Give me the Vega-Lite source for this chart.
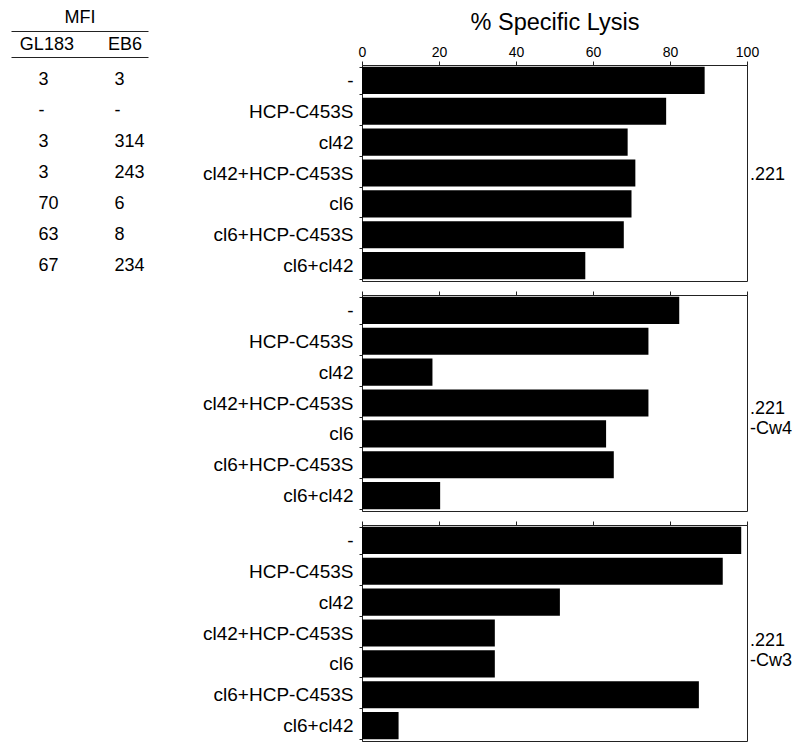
{
  "$schema": "https://vega.github.io/schema/vega-lite/v6.json",
  "padding": {"left": 11, "top": 8, "right": 5, "bottom": 0},
  "background": "white",
  "datasets": {
    "lysis": [
      {"target": ".221", "condition": "-", "lysis": 89},
      {"target": ".221", "condition": "HCP-C453S", "lysis": 79},
      {"target": ".221", "condition": "cl42", "lysis": 69},
      {"target": ".221", "condition": "cl42+HCP-C453S", "lysis": 71},
      {"target": ".221", "condition": "cl6", "lysis": 70},
      {"target": ".221", "condition": "cl6+HCP-C453S", "lysis": 68},
      {"target": ".221", "condition": "cl6+cl42", "lysis": 58},
      {"target": ".221-Cw4", "condition": "-", "lysis": 82.4},
      {"target": ".221-Cw4", "condition": "HCP-C453S", "lysis": 74.4},
      {"target": ".221-Cw4", "condition": "cl42", "lysis": 18.3},
      {"target": ".221-Cw4", "condition": "cl42+HCP-C453S", "lysis": 74.4},
      {"target": ".221-Cw4", "condition": "cl6", "lysis": 63.4},
      {"target": ".221-Cw4", "condition": "cl6+HCP-C453S", "lysis": 65.4},
      {"target": ".221-Cw4", "condition": "cl6+cl42", "lysis": 20.3},
      {"target": ".221-Cw3", "condition": "-", "lysis": 98.5},
      {"target": ".221-Cw3", "condition": "HCP-C453S", "lysis": 93.7},
      {"target": ".221-Cw3", "condition": "cl42", "lysis": 51.4},
      {"target": ".221-Cw3", "condition": "cl42+HCP-C453S", "lysis": 34.5},
      {"target": ".221-Cw3", "condition": "cl6", "lysis": 34.5},
      {"target": ".221-Cw3", "condition": "cl6+HCP-C453S", "lysis": 87.5},
      {"target": ".221-Cw3", "condition": "cl6+cl42", "lysis": 9.5}
    ],
    "targets": [
      {"target": ".221", "label": ".221"},
      {"target": ".221-Cw4", "label": ".221\n-Cw4"},
      {"target": ".221-Cw3", "label": ".221\n-Cw3"}
    ],
    "mfi": [
      {"condition": "-", "antibody": "GL183", "mfi": "3"},
      {"condition": "HCP-C453S", "antibody": "GL183", "mfi": "-"},
      {"condition": "cl42", "antibody": "GL183", "mfi": "3"},
      {"condition": "cl42+HCP-C453S", "antibody": "GL183", "mfi": "3"},
      {"condition": "cl6", "antibody": "GL183", "mfi": "70"},
      {"condition": "cl6+HCP-C453S", "antibody": "GL183", "mfi": "63"},
      {"condition": "cl6+cl42", "antibody": "GL183", "mfi": "67"},
      {"condition": "-", "antibody": "EB6", "mfi": "3"},
      {"condition": "HCP-C453S", "antibody": "EB6", "mfi": "-"},
      {"condition": "cl42", "antibody": "EB6", "mfi": "314"},
      {"condition": "cl42+HCP-C453S", "antibody": "EB6", "mfi": "243"},
      {"condition": "cl6", "antibody": "EB6", "mfi": "6"},
      {"condition": "cl6+HCP-C453S", "antibody": "EB6", "mfi": "8"},
      {"condition": "cl6+cl42", "antibody": "EB6", "mfi": "234"}
    ]
  },
  "columns": 2,
  "bounds": "flush",
  "spacing": {"row": 14, "column": 214},
  "concat": [
    {
      "width": 137, "height": 216,
      "view": {"stroke": null},
      "data": {"name": "mfi"},
      "layer": [
        {
          "transform": [{"filter": "datum.antibody === 'GL183'"}],
          "mark": {"type": "text", "align": "left", "dx": -8, "fontSize": 18, "color": "black"},
          "encoding": {
            "x": {"field": "antibody", "type": "nominal",
                  "scale": {"domain": ["GL183", "EB6"], "padding": 0.378, "align": 0.6},
                  "axis": {"orient": "top", "offset": 8, "ticks": false, "labelPadding": 4, "labelFontSize": 18, "labelAngle": 0, "title": null}},
            "y": {"field": "condition", "type": "nominal",
                  "sort": ["-", "HCP-C453S", "cl42", "cl42+HCP-C453S", "cl6", "cl6+HCP-C453S", "cl6+cl42"],
                  "scale": {"padding": 0.5}, "axis": null},
            "text": {"field": "mfi"}
          }
        },
        {
          "transform": [{"filter": "datum.antibody === 'EB6'"}],
          "mark": {"type": "text", "align": "left", "dx": -10, "fontSize": 18, "color": "black"},
          "encoding": {
            "x": {"field": "antibody", "type": "nominal",
                  "scale": {"domain": ["GL183", "EB6"], "padding": 0.378, "align": 0.6},
                  "axis": {"orient": "top", "offset": 34, "ticks": false, "labels": false, "title": "MFI", "titleFontSize": 18, "titleFontWeight": "normal", "titlePadding": 5}},
            "y": {"field": "condition", "type": "nominal",
                  "sort": ["-", "HCP-C453S", "cl42", "cl42+HCP-C453S", "cl6", "cl6+HCP-C453S", "cl6+cl42"],
                  "scale": {"padding": 0.5}, "axis": null},
            "text": {"field": "mfi"}
          }
        }
      ],
      "resolve": {"axis": {"x": "independent"}}
    },
    {
      "width": 385, "height": 216,
      "view": {"stroke": "#222"},
      "layer": [
        {
          "data": {"name": "lysis"},
          "transform": [{"filter": "datum.target === '.221'"}],
          "mark": {"type": "bar", "color": "black"},
          "encoding": {
            "y": {"field": "condition", "type": "nominal",
                  "sort": ["-", "HCP-C453S", "cl42", "cl42+HCP-C453S", "cl6", "cl6+HCP-C453S", "cl6+cl42"],
                  "scale": {"paddingInner": 0.12, "paddingOuter": 0.06},
                  "axis": {"title": null, "labelFontSize": 19, "labelPadding": 6, "tickSize": 3, "tickBand": "extent"}},
            "x": {"field": "lysis", "type": "quantitative",
                  "scale": {"domain": [0, 100], "nice": false},
                  "axis": {"orient": "top", "title": "% Specific Lysis", "titleFontSize": 23.5, "titleFontWeight": "normal", "titlePadding": 11,
                           "values": [0, 10, 20, 30, 40, 50, 60, 70, 80, 90, 100],
                           "labelExpr": "datum.value % 20 === 0 ? datum.label : ''",
                           "labelFontSize": 14, "labelFlush": false, "labelPadding": 2, "tickSize": 4, "grid": false}}
          }
        },
        {
          "data": {"name": "targets"},
          "transform": [{"filter": "datum.target === '.221'"}],
          "mark": {"type": "text", "align": "left", "baseline": "middle", "lineBreak": "\n", "fontSize": 18, "dx": 3, "dy": 2, "color": "black"},
          "encoding": {"x": {"datum": 100}, "text": {"field": "label"}}
        }
      ]
    },
    {
      "width": 137, "height": 216,
      "view": {"stroke": null},
      "data": {"values": []},
      "mark": "point"
    },
    {
      "width": 385, "height": 216,
      "view": {"stroke": "#222"},
      "layer": [
        {
          "data": {"name": "lysis"},
          "transform": [{"filter": "datum.target === '.221-Cw4'"}],
          "mark": {"type": "bar", "color": "black"},
          "encoding": {
            "y": {"field": "condition", "type": "nominal",
                  "sort": ["-", "HCP-C453S", "cl42", "cl42+HCP-C453S", "cl6", "cl6+HCP-C453S", "cl6+cl42"],
                  "scale": {"paddingInner": 0.12, "paddingOuter": 0.06},
                  "axis": {"title": null, "labelFontSize": 19, "labelPadding": 6, "tickSize": 3, "tickBand": "extent"}},
            "x": {"field": "lysis", "type": "quantitative",
                  "scale": {"domain": [0, 100], "nice": false},
                  "axis": {"orient": "top", "title": null,
                           "values": [0, 10, 20, 30, 40, 50, 60, 70, 80, 90, 100],
                           "labels": false, "tickSize": 4, "grid": false}}
          }
        },
        {
          "data": {"name": "targets"},
          "transform": [{"filter": "datum.target === '.221-Cw4'"}],
          "mark": {"type": "text", "align": "left", "baseline": "middle", "lineBreak": "\n", "fontSize": 18, "dx": 3, "dy": 6, "color": "black"},
          "encoding": {"x": {"datum": 100}, "text": {"field": "label"}}
        }
      ]
    },
    {
      "width": 137, "height": 216,
      "view": {"stroke": null},
      "data": {"values": []},
      "mark": "point"
    },
    {
      "width": 385, "height": 216,
      "view": {"stroke": "#222"},
      "layer": [
        {
          "data": {"name": "lysis"},
          "transform": [{"filter": "datum.target === '.221-Cw3'"}],
          "mark": {"type": "bar", "color": "black"},
          "encoding": {
            "y": {"field": "condition", "type": "nominal",
                  "sort": ["-", "HCP-C453S", "cl42", "cl42+HCP-C453S", "cl6", "cl6+HCP-C453S", "cl6+cl42"],
                  "scale": {"paddingInner": 0.12, "paddingOuter": 0.06},
                  "axis": {"title": null, "labelFontSize": 19, "labelPadding": 6, "tickSize": 3, "tickBand": "extent"}},
            "x": {"field": "lysis", "type": "quantitative",
                  "scale": {"domain": [0, 100], "nice": false},
                  "axis": {"orient": "top", "title": null,
                           "values": [0, 10, 20, 30, 40, 50, 60, 70, 80, 90, 100],
                           "labels": false, "tickSize": 4, "grid": false}}
          }
        },
        {
          "data": {"name": "targets"},
          "transform": [{"filter": "datum.target === '.221-Cw3'"}],
          "mark": {"type": "text", "align": "left", "baseline": "middle", "lineBreak": "\n", "fontSize": 18, "dx": 3, "dy": 8, "color": "black"},
          "encoding": {"x": {"datum": 100}, "text": {"field": "label"}}
        }
      ]
    }
  ],
  "config": {
    "font": "Liberation Sans",
    "view": {"stroke": null},
    "axis": {"labelFont": "Liberation Sans", "titleFont": "Liberation Sans", "labelColor": "black", "titleColor": "black", "domainColor": "#222", "tickColor": "#222", "grid": false},
    "text": {"font": "Liberation Sans"}
  }
}
